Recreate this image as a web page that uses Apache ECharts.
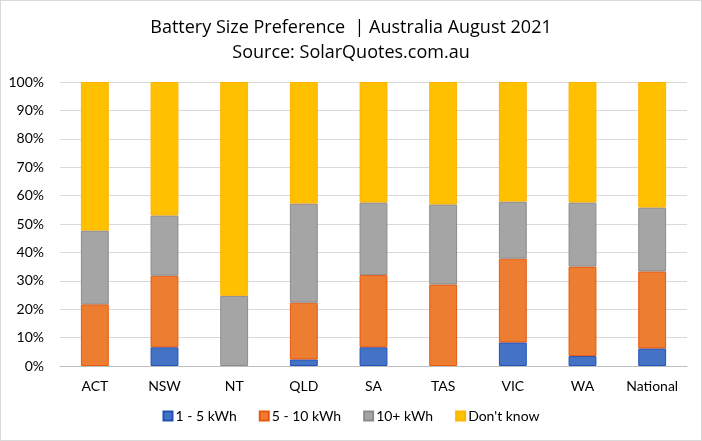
<!DOCTYPE html>
<html>
<head>
<meta charset="utf-8">
<script src="https://cdn.jsdelivr.net/npm/echarts@6/dist/echarts.min.js"></script>
<style>
html,body{margin:0;padding:0;background:#fff;}
#c{width:700px;height:439px;border:1px solid #d9d9d9;}
</style>
</head>
<body>
<div id="c"></div>
<script>
const categories = ['ACT','NSW','NT','QLD','SA','TAS','VIC','WA','National'];
const seriesNames = ['1 - 5 kWh','5 - 10 kWh','10+ kWh',"Don't know"];
const small = [0, 6.6, 0, 2.3, 6.6, 0, 8.3, 3.5, 6.2];
const medium = [21.7, 25.2, 0, 20.0, 25.4, 28.7, 29.5, 31.5, 27.1];
const large = [26.0, 21.2, 24.7, 34.9, 25.6, 28.2, 20.1, 22.6, 22.5];
const unknown = [52.3, 47.0, 75.3, 42.8, 42.4, 43.1, 42.1, 42.4, 44.2];
const yTicks = [0,10,20,30,40,50,60,70,80,90,100];

const fills = ['#4472C4','#ED7D31','#A5A5A5','#FFC000'];
const borders = ['#2451B8','#E8580E','#8C8C8C','#FFB300'];
const values = [small, medium, large, unknown];
const font = 'Lato, "Open Sans", sans-serif';

const chart = echarts.init(document.getElementById('c'));
chart.setOption({
  animation: false,
  textStyle: {fontFamily: font},
  title: {
    text: 'Battery Size Preference  | Australia August 2021\nSource: SolarQuotes.com.au',
    left: 'center', top: 9,
    textStyle: {fontSize: 18, fontWeight: 'normal', color: '#000', lineHeight: 25, fontFamily: '"Open Sans", sans-serif'}
  },
  legend: {
    bottom: 12, left: 'center',
    itemWidth: 9, itemHeight: 9, itemGap: 22,
    icon: 'rect',
    textStyle: {fontSize: 14, color: '#000', fontFamily: font, padding: [0,0,0,-2]},
    data: seriesNames
  },
  grid: {left: 59, right: 14, top: 81, bottom: 74, containLabel: false},
  xAxis: {
    type: 'category', data: categories,
    axisLine: {lineStyle: {color: '#bfbfbf'}},
    axisTick: {show: false},
    axisLabel: {color: '#000', fontSize: 14, margin: 13, fontFamily: font}
  },
  yAxis: {
    type: 'value', min: 0, max: 100, interval: 10,
    axisLabel: {formatter: v => yTicks.includes(v) ? v + '%' : '', color: '#000', fontSize: 14, margin: 16, fontFamily: font},
    axisLine: {show: false}, axisTick: {show: false},
    splitLine: {lineStyle: {color: '#d9d9d9'}}
  },
  series: seriesNames.map((n, i) => ({
    name: n, type: 'bar', stack: 'all',
    barWidth: '40%',
    data: values[i].map(v => v === 0 ? null : v),
    itemStyle: {color: fills[i], borderColor: borders[i], borderWidth: 1}
  }))
});
</script>
</body>
</html>
